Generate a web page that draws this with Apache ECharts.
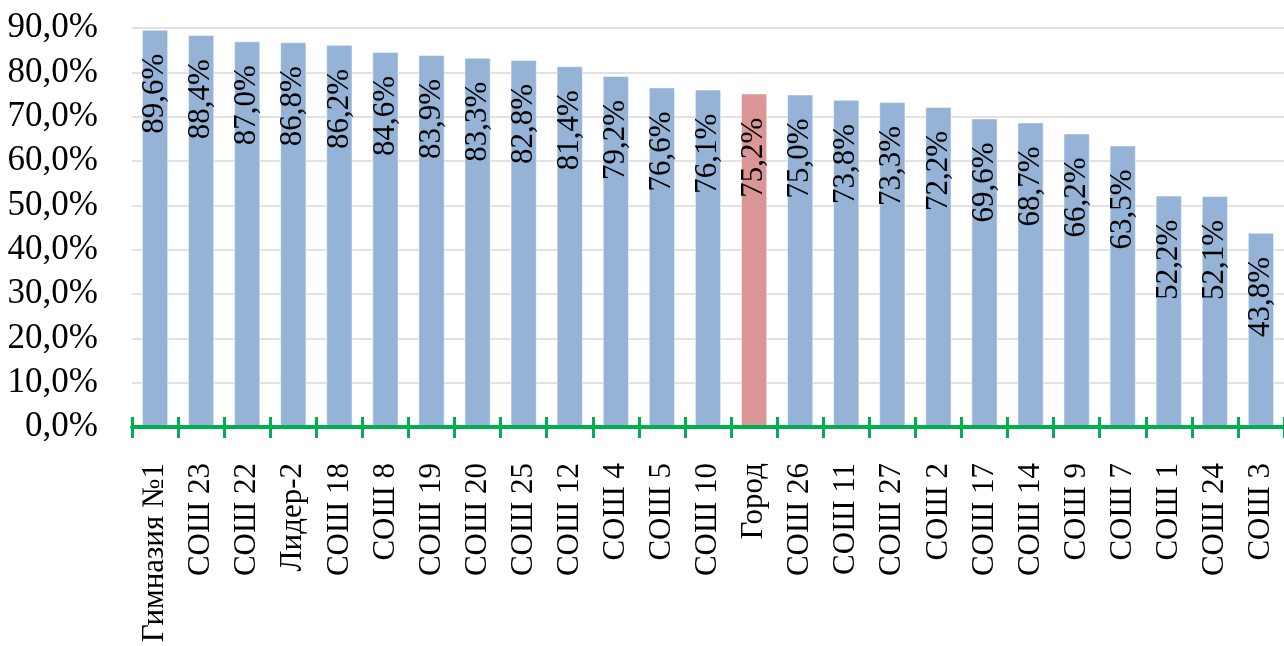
<!DOCTYPE html>
<html>
<head>
<meta charset="utf-8">
<script src="https://cdn.jsdelivr.net/npm/echarts@6/dist/echarts.min.js"></script>
<style>html,body{margin:0;padding:0;background:#fff;}#c{width:1284px;height:646px;}</style>
</head>
<body>
<div id="c"></div>
<script>
const categories = ["Гимназия №1","СОШ 23","СОШ 22","Лидер-2","СОШ 18","СОШ 8","СОШ 19","СОШ 20","СОШ 25","СОШ 12","СОШ 4","СОШ 5","СОШ 10","Город","СОШ 26","СОШ 11","СОШ 27","СОШ 2","СОШ 17","СОШ 14","СОШ 9","СОШ 7","СОШ 1","СОШ 24","СОШ 3"];
const values = [89.6,88.4,87.0,86.8,86.2,84.6,83.9,83.3,82.8,81.4,79.2,76.6,76.1,75.2,75.0,73.8,73.3,72.2,69.6,68.7,66.2,63.5,52.2,52.1,43.8];
const highlight = "Город";
const yTicks = [0,10,20,30,40,50,60,70,80,90];

const font = "'Liberation Serif','Times New Roman',serif";
const fmt = v => v.toFixed(1).replace('.', ',') + '%';

const chart = echarts.init(document.getElementById('c'), null, {renderer:'canvas'});
chart.setOption({
  animation:false,
  grid:{left:132, top:28, width:1160, height:399, containLabel:false},
  xAxis:[{
    type:'category', data:categories, z:10,
    axisLine:{show:true, lineStyle:{color:'#00B050', width:4}},
    axisTick:{show:true, interval:0, length:11, lineStyle:{color:'#00B050', width:3}},
    axisLabel:{rotate:90, interval:0, margin:36, fontFamily:font, fontSize:31, color:'#000'}
  },{
    type:'category', data:categories, position:'bottom', z:10,
    axisLine:{show:false},
    axisTick:{show:true, interval:0, inside:true, length:10, lineStyle:{color:'#00B050', width:3}},
    axisLabel:{show:false}
  }],
  yAxis:{
    type:'value', min:yTicks[0], max:yTicks[yTicks.length-1], interval:10,
    axisLine:{show:false}, axisTick:{show:false},
    splitLine:{lineStyle:{color:'#D9D9D9', width:1.5}},
    axisLabel:{formatter:v=>fmt(v), margin:34, fontFamily:font, fontSize:35, color:'#000'}
  },
  series:[{
    type:'bar',
    xAxisIndex:0,
    data:values.map((v,i)=>({value:v, itemStyle:{color: categories[i]===highlight ? '#D99694' : '#95B3D7'}})),
    barWidth:'57%',
    itemStyle:{borderColor:'rgba(255,255,255,0.5)', borderWidth:1},
    label:{
      show:true, position:'insideTop', distance:24, rotate:90,
      align:'right', verticalAlign:'middle',
      formatter:p=>fmt(p.value),
      fontFamily:font, fontSize:31, color:'#000'
    }
  }]
});
</script>
</body>
</html>
